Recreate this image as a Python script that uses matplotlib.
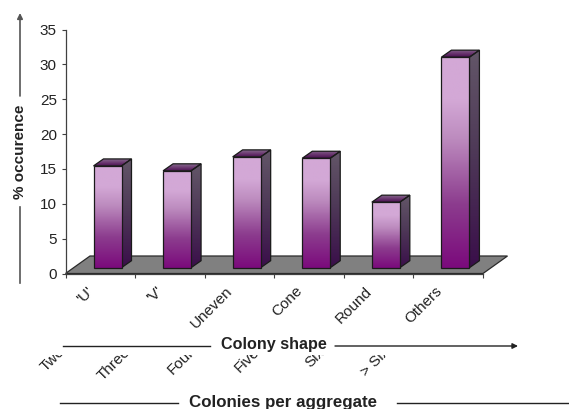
import numpy as np
import matplotlib
matplotlib.use("Agg")
import matplotlib.pyplot as plt
from matplotlib.colors import LinearSegmentedColormap
from matplotlib.patches import Polygon
from matplotlib.transforms import Bbox

# Chart values
shapes = ["'U'", "'V'", "Uneven", "Cone", "Round", "Others"]
occurrence = [14.6, 13.9, 15.9, 15.7, 9.4, 30.2]
aggregate_labels = ["Two", "Three", "Four", "Five", "Six", "> Six"]
y_ticks = [0, 5, 10, 15, 20, 25, 30, 35]

W, H = 569, 409
plt.rcParams["font.family"] = ["Liberation Sans", "DejaVu Sans"]
fig = plt.figure(figsize=(W / 100, H / 100), dpi=100)

# Plot area in pixels
left, right, y0, y35 = 65.5, 483.0, 273.5, 29.5
ax = fig.add_axes([left / W, 1 - y0 / H, (right - left) / W, (y0 - y35) / H])
ax.set_xlim(0, 6)
ax.set_ylim(0, 35)
ax.patch.set_visible(False)

px_x = 6 / (right - left)
px_y = 35 / (y0 - y35)

# Depth of the fake 3D projection, floor and bars
floor_dx, floor_dy = 24.5 * px_x, 17.5 * px_y
depth_x, depth_y = 10 * px_x, 7 * px_y
bar_w = 28.0 * px_x
bar_left = 28.0 * px_x
bar_base = 5.8 * px_y

front_cmap = LinearSegmentedColormap.from_list(
    "front", [(0, "#7b0a7c"), (0.30, "#8c3c8e"), (0.62, "#bd8cbf"), (0.80, "#d3a8d6"), (1, "#d3a8d6")])
side_cmap = LinearSegmentedColormap.from_list(
    "side", [(0, "#3a0e4a"), (0.55, "#4f3a58"), (1, "#635668")])
top_cmap = LinearSegmentedColormap.from_list(
    "top", [(0, "#4a1050"), (0.5, "#6d3a72"), (1, "#84688c")])
ramp = np.linspace(1, 0, 128)[:, None]
edge = "#1a1a1a"


def shaded(points, cmap, z):
    xs, ys = zip(*points)
    outline = Polygon(points, closed=True, fill=False, ec=edge, lw=0.9, zorder=z + 0.1, clip_on=False)
    ax.add_patch(outline)
    im = ax.imshow(ramp, cmap=cmap, vmin=0, vmax=1, aspect="auto", zorder=z,
                   extent=(min(xs), max(xs), min(ys), max(ys)), interpolation="bilinear")
    clip = Polygon(points, closed=True, transform=ax.transData)
    im.set_clip_path(clip)


ax.add_patch(Polygon([(0, 0), (6, 0), (6 + floor_dx, floor_dy), (floor_dx, floor_dy)],
                     closed=True, fc="#808080", ec="#2a2a2a", lw=0.9, zorder=1, clip_on=False))

for i, value in enumerate(occurrence):
    x0 = i + bar_left
    x1 = x0 + bar_w
    b = bar_base
    t = bar_base + value
    shaded([(x0, b), (x1, b), (x1, t), (x0, t)], front_cmap, 3)
    shaded([(x1, b), (x1 + depth_x, b + depth_y), (x1 + depth_x, t + depth_y), (x1, t)], side_cmap, 2)
    shaded([(x0, t), (x1, t), (x1 + depth_x, t + depth_y), (x0 + depth_x, t + depth_y)], top_cmap, 2)

ax.set_xlim(0, 6)
ax.set_ylim(0, 35)

# Axes
for s in ("top", "right"):
    ax.spines[s].set_visible(False)
for s in ("left", "bottom"):
    ax.spines[s].set_color("#404040")
    ax.spines[s].set_linewidth(0.9)
ax.set_yticks(y_ticks)
ax.set_yticklabels([str(v) for v in y_ticks], fontsize=11, color="#222222")
ax.set_xticks(range(7))
ax.set_xticklabels([])
ax.tick_params(axis="both", length=3.2, width=0.8, color="#404040", pad=3)


def px(x, y):
    return x / W, 1 - y / H


# Category labels, rotated
for i, name in enumerate(shapes):
    x, y = px(left + 69.6 * i + 21, 284)
    fig.text(x, y, name, rotation=45, rotation_mode="anchor", ha="right", va="top",
             fontsize=11, color="#222222")

# Second row of labels, cut off along their top edge
clip_box = Bbox([[0, 0], [W, H - 354.5]])
for i, name in enumerate(aggregate_labels):
    x, y = px(58 + 64.8 * i, 345)
    t = fig.text(x, y, name, rotation=45, rotation_mode="anchor", ha="right", va="top",
                 fontsize=11, color="#222222")
    t.set_clip_box(clip_box)
    t.set_clip_on(True)


def rule(x0, y0_, x1, y1, color="#222222", lw=1.0):
    fig.add_artist(plt.Line2D([x0 / W, x1 / W], [1 - y0_ / H, 1 - y1 / H], color=color, lw=lw))


def arrow(x0, y0_, x1, y1, color="#222222", lw=1.0):
    fig.add_artist(matplotlib.patches.FancyArrowPatch(
        px(x0, y0_), px(x1, y1), transform=fig.transFigure, arrowstyle="-|>",
        mutation_scale=8, color=color, lw=lw, shrinkA=0, shrinkB=0))


# Axis captions with their arrows
fig.text(*px(20, 152), "% occurence", rotation=90, ha="center", va="center",
         fontsize=11, fontweight="bold", color="#222222")
arrow(20, 96, 20, 13, color="#555555", lw=1.2)
rule(20, 207, 20, 283, color="#555555", lw=1.2)

fig.text(*px(274, 345), "Colony shape", ha="center", va="center",
         fontsize=11.6, fontweight="bold", color="#222222")
rule(63, 346, 210, 346)
arrow(335, 346, 518, 346)

fig.text(*px(283, 402), "Colonies per aggregate", ha="center", va="center",
         fontsize=12.2, fontweight="bold", color="#222222")
rule(60, 403, 178, 403)
rule(397, 403, 569, 403)

fig.savefig("out.png", dpi=100, facecolor="white")
